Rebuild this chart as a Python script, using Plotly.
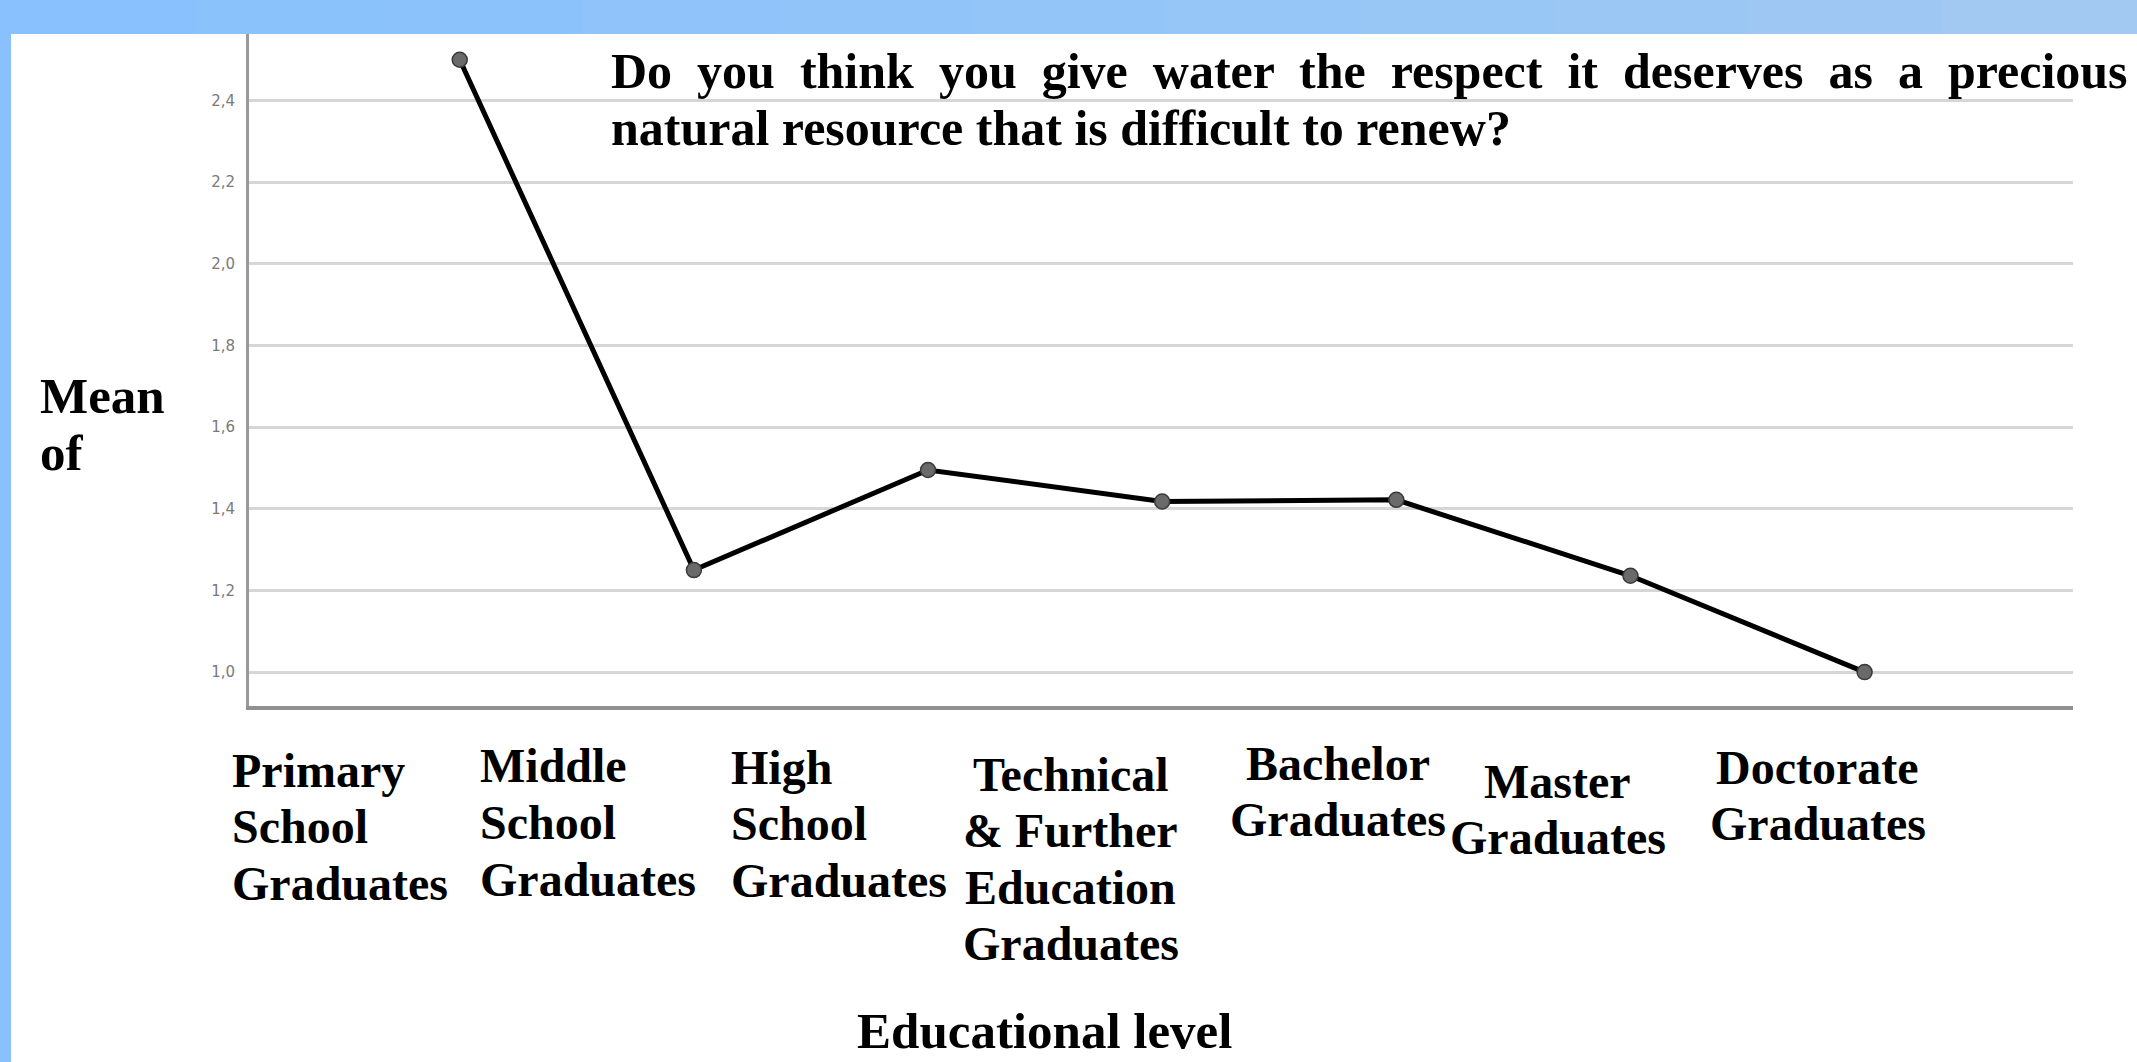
import plotly.graph_objects as go

categories = [
    "Primary<br>School<br>Graduates",
    "Middle<br>School<br>Graduates",
    "High<br>School<br>Graduates",
    "Technical<br>& Further<br>Education<br>Graduates",
    "Bachelor<br>Graduates",
    "Master<br>Graduates",
    "Doctorate<br>Graduates",
]
positions = [1, 2, 3, 4, 5, 6, 7]
means = [2.50, 1.25, 1.495, 1.418, 1.422, 1.236, 1.00]

# where the pasted category labels sit: anchor x (axis units), alignment, first-line y (px)
label_x = [0.02, 1.08, 2.15, 3.61, 4.75, 5.69, 6.80]
label_align = ["left", "left", "left", "center", "center", "center", "center"]
label_y = [770, 766, 767, 774, 763, 781, 767]
LINE_GAP = 56.5

title_line1 = "Do you think you give water the respect it deserves as a precious"
title_line2 = "natural resource that is difficult to renew?"

W, H = 2137, 1062
L, R, T, B = 249, 64, 34, 356
PW, PH = W - L - R, H - T - B
XRANGE = [0.1, 7.89]
SERIF = "Liberation Serif, Times New Roman, serif"
BAND = ["#88c1fd", "#8ac2fc", "#8cc2fb", "#8fc3fa", "#91c4f9", "#94c5f8",
        "#96c6f7", "#99c7f5", "#9bc7f4", "#9ec8f3", "#a1c9f2"]


def px_x(p):
    return (p - L) / PW


def px_y(p):
    return (H - B - p) / PH


def ax_to_paper(v):
    return (v - XRANGE[0]) / (XRANGE[1] - XRANGE[0])


fig = go.Figure()

fig.add_trace(
    go.Scatter(
        x=positions,
        y=means,
        mode="lines+markers",
        line=dict(color="black", width=5),
        marker=dict(size=15, color="#6a6a6a", line=dict(color="#3a3a3a", width=1.5)),
        cliponaxis=False,
        showlegend=False,
    )
)

annotations = []
for lab, lx, al, ly in zip(categories, label_x, label_align, label_y):
    for i, line in enumerate(lab.split("<br>")):
        annotations.append(
            dict(
                x=ax_to_paper(lx), xref="paper", xanchor=al,
                y=px_y(ly + i * LINE_GAP), yref="paper",
                yanchor="middle", text="<b>%s</b>" % line, showarrow=False,
                font=dict(family=SERIF, size=48, color="black"),
            )
        )

# justified-looking first line of the title
spaced = " \u00a0".join(title_line1.split(" "))
annotations += [
    dict(x=px_x(609), xref="paper", xanchor="left", y=px_y(71), yref="paper",
         yanchor="middle", text="<b>%s</b>" % spaced, showarrow=False,
         font=dict(family=SERIF, size=50, color="black")),
    dict(x=px_x(609), xref="paper", xanchor="left", y=px_y(128), yref="paper",
         yanchor="middle", text="<b>%s</b>" % title_line2, showarrow=False,
         font=dict(family=SERIF, size=50, color="black")),
    dict(x=px_x(38), xref="paper", xanchor="left", y=px_y(396), yref="paper",
         yanchor="middle", text="<b>Mean</b>", showarrow=False,
         font=dict(family=SERIF, size=51, color="black")),
    dict(x=px_x(38), xref="paper", xanchor="left", y=px_y(453), yref="paper",
         yanchor="middle", text="<b>of</b>", showarrow=False,
         font=dict(family=SERIF, size=51, color="black")),
    dict(x=px_x(1044), xref="paper", xanchor="center", y=px_y(H - 1), yref="paper",
         yanchor="bottom", text="<b>Educational level</b>", showarrow=False,
         font=dict(family=SERIF, size=51, color="black")),
]

# blue frame: band across the top (gentle gradient) and a strip down the left
shapes = []
seg = W / len(BAND)
for i, c in enumerate(BAND):
    shapes.append(
        dict(type="rect", xref="paper", yref="paper", x0=px_x(i * seg), x1=px_x((i + 1) * seg + 1),
             y0=px_y(T), y1=px_y(0), fillcolor=c, line=dict(width=0), layer="above")
    )
shapes.append(
    dict(type="rect", xref="paper", yref="paper", x0=px_x(0), x1=px_x(11),
         y0=px_y(H), y1=px_y(0), fillcolor=BAND[0], line=dict(width=0), layer="above")
)

fig.update_layout(
    width=W,
    height=H,
    margin=dict(l=L, r=R, t=T, b=B),
    paper_bgcolor="white",
    plot_bgcolor="white",
    separators=",.",
    showlegend=False,
    annotations=annotations,
    shapes=shapes,
    xaxis=dict(
        range=XRANGE,
        showticklabels=False,
        showgrid=False,
        zeroline=False,
        showline=True,
        linecolor="#909090",
        linewidth=4,
        ticks="",
    ),
    yaxis=dict(
        range=[0.917, 2.563],
        tick0=1.0,
        dtick=0.2,
        tickformat=".1f",
        showgrid=True,
        gridcolor="#d6d6d6",
        gridwidth=3,
        zeroline=False,
        showline=True,
        linecolor="#999999",
        linewidth=3,
        ticks="",
        ticklabelstandoff=8,
        tickfont=dict(family="DejaVu Sans, Arial, sans-serif", size=15, color="#7a7a7a"),
    ),
)

fig.write_html(
    "out.html",
    config={"displayModeBar": False},
    post_script="document.body.style.margin='0';",
)
